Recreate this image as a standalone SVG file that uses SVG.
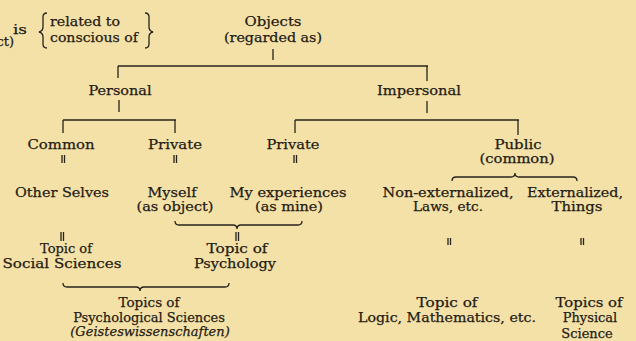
<svg xmlns="http://www.w3.org/2000/svg" width="636" height="341" viewBox="0 0 636 341">
<style>
text{font-family:"DejaVu Serif","Liberation Serif",serif;font-size:13px;fill:#1f1b14;stroke:#1f1b14;stroke-width:0.25;text-anchor:middle}
.l{text-anchor:start}
.e{text-anchor:end}
.it{font-style:italic}
.c line,.c path{stroke:#27231c;stroke-width:1.3;fill:none}
</style>
<rect width="636" height="341" fill="#f4e1a8"/>
<g class="c" id="connectors">
<line x1="273" y1="49" x2="273" y2="60"/>
<line x1="118" y1="66" x2="428" y2="66"/>
<line x1="118" y1="66" x2="118" y2="78"/>
<line x1="427" y1="66" x2="427" y2="81"/>
<line x1="119" y1="100" x2="119" y2="112"/>
<line x1="63" y1="120" x2="176" y2="120"/>
<line x1="63" y1="120" x2="63" y2="133"/>
<line x1="175" y1="120" x2="175" y2="133"/>
<line x1="427" y1="101" x2="427" y2="113"/>
<line x1="295" y1="120" x2="519" y2="120"/>
<line x1="295" y1="120" x2="295" y2="133"/>
<line x1="518" y1="120" x2="518" y2="135"/>
<path d="M62,155V163M64.5,155V163"/>
<path d="M174,155V163M176.5,155V163"/>
<path d="M294,155V163M296.5,155V163"/>
<path d="M61,232V241M63.5,232V241"/>
<path d="M236,232V241M238.5,232V241"/>
<path d="M448,238V245M450.5,238V245"/>
<path d="M581,238V245M583.5,238V245"/>
<path d="M47,13q-4,0 -4,4v10q0,4 -4,5q4,1 4,5v7q0,4 4,4"/>
<path d="M145,13q4,0 4,4v10q0,4 4,5q-4,1 -4,5v7q0,4 -4,4"/>
<path d="M175,221q0,4 4,4h54q4,0 4,4q0,-4 4,-4h57q4,0 4,-4"/>
<path d="M452,181q0,-4 4,-4h55q4,0 4,-4q0,4 4,4h54q4,0 4,4"/>
<path d="M63,283q0,4 4,4h69q4,0 4,4q0,-4 4,-4h81q4,0 4,-4"/>
</g>
<g id="subject"><text class="e" x="14" y="46">ct)</text><text x="20" y="34" textLength="14" lengthAdjust="spacingAndGlyphs">is</text></g>
<g id="relation"><text class="l" x="50" y="26" textLength="70" lengthAdjust="spacingAndGlyphs">related to</text><text class="l" x="50" y="42" textLength="88" lengthAdjust="spacingAndGlyphs">conscious of</text></g>
<g id="objects"><text x="273" y="26" textLength="57" lengthAdjust="spacingAndGlyphs">Objects</text><text x="273" y="42" textLength="98" lengthAdjust="spacingAndGlyphs">(regarded as)</text></g>
<g id="personal"><text x="120" y="95" textLength="63" lengthAdjust="spacingAndGlyphs">Personal</text></g>
<g id="impersonal"><text x="419" y="95" textLength="84" lengthAdjust="spacingAndGlyphs">Impersonal</text></g>
<g id="common"><text x="61" y="149" textLength="67" lengthAdjust="spacingAndGlyphs">Common</text></g>
<g id="private1"><text x="175" y="149" textLength="54" lengthAdjust="spacingAndGlyphs">Private</text></g>
<g id="private2"><text x="293" y="149" textLength="53" lengthAdjust="spacingAndGlyphs">Private</text></g>
<g id="public"><text x="518" y="149" textLength="47" lengthAdjust="spacingAndGlyphs">Public</text><text x="517" y="163" textLength="75" lengthAdjust="spacingAndGlyphs">(common)</text></g>
<g id="otherselves"><text x="62" y="197" textLength="94" lengthAdjust="spacingAndGlyphs">Other Selves</text></g>
<g id="myself"><text x="172" y="197" textLength="49" lengthAdjust="spacingAndGlyphs">Myself</text><text x="175" y="211" textLength="77" lengthAdjust="spacingAndGlyphs">(as object)</text></g>
<g id="myexperiences"><text x="288" y="197" textLength="117" lengthAdjust="spacingAndGlyphs">My experiences</text><text x="289" y="211" textLength="68" lengthAdjust="spacingAndGlyphs">(as mine)</text></g>
<g id="nonexternalized"><text x="448" y="197" textLength="131" lengthAdjust="spacingAndGlyphs">Non-externalized,</text><text x="448" y="211" textLength="70" lengthAdjust="spacingAndGlyphs">Laws, etc.</text></g>
<g id="externalized"><text x="575" y="197" textLength="96" lengthAdjust="spacingAndGlyphs">Externalized,</text><text x="577" y="211" textLength="51" lengthAdjust="spacingAndGlyphs">Things</text></g>
<g id="social"><text x="66" y="253" textLength="52" lengthAdjust="spacingAndGlyphs">Topic of</text><text x="62" y="268" textLength="119" lengthAdjust="spacingAndGlyphs">Social Sciences</text></g>
<g id="psychology"><text x="237" y="253" textLength="61" lengthAdjust="spacingAndGlyphs">Topic of</text><text x="235" y="268" textLength="82" lengthAdjust="spacingAndGlyphs">Psychology</text></g>
<g id="psychsciences"><text x="149" y="307" textLength="61" lengthAdjust="spacingAndGlyphs">Topics of</text><text x="149" y="322">Psychological Sciences</text><text x="150" y="336" class="it">(Geisteswissenschaften)</text></g>
<g id="logic"><text x="447" y="307" textLength="61" lengthAdjust="spacingAndGlyphs">Topic of</text><text x="447" y="322" textLength="178" lengthAdjust="spacingAndGlyphs">Logic, Mathematics, etc.</text></g>
<g id="physical"><text x="589" y="307" textLength="67" lengthAdjust="spacingAndGlyphs">Topics of</text><text x="590" y="322">Physical</text><text x="587" y="338">Science</text></g>
</svg>
